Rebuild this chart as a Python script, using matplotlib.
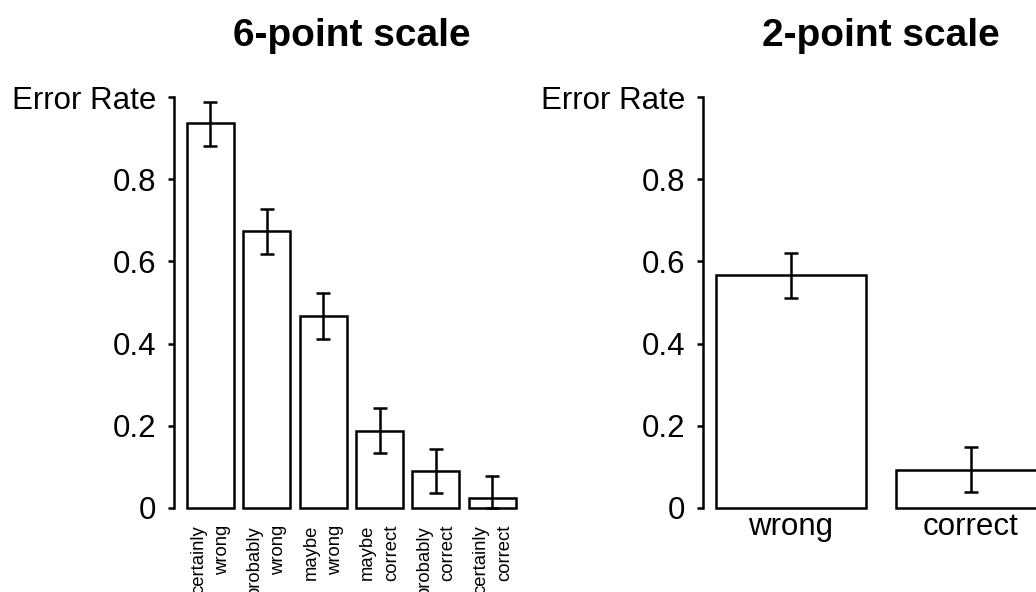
import numpy as np
import matplotlib
matplotlib.use('Agg')
import matplotlib.pyplot as plt

plt.rcParams['font.family'] = ['Liberation Sans', 'DejaVu Sans']

# 6-point scale
labels6 = ['certainly\nwrong', 'probably\nwrong', 'maybe\nwrong',
           'maybe\ncorrect', 'probably\ncorrect', 'certainly\ncorrect']
rate6 = [0.936, 0.673, 0.467, 0.187, 0.091, 0.024]
hi6 = [0.989, 0.727, 0.522, 0.243, 0.143, 0.078]
lo6 = [0.882, 0.617, 0.411, 0.134, 0.036, 0.0]

# 2-point scale
labels2 = ['wrong', 'correct']
rate2 = [0.567, 0.093]
hi2 = [0.620, 0.148]
lo2 = [0.510, 0.038]

yticks = [0, 0.2, 0.4, 0.6, 0.8, 1.0]
ylabels = ['0', '0.2', '0.4', '0.6', '0.8', 'Error Rate']

W, H = 1036, 592
fig = plt.figure(figsize=(W / 100, H / 100), dpi=100)

lw = 1.8
bottom = (H - 524.4) / H
height = 443.8 / H


def panel(rect, labels, rate, hi, lo, title):
    ax = fig.add_axes(rect)
    n = len(rate)
    x = 0.7 + 1.2 * np.arange(n)
    rate = np.array(rate)
    yerr = [rate - np.array(lo), np.array(hi) - rate]
    ax.bar(x, rate, width=1.0, facecolor='white', edgecolor='black', linewidth=lw)
    ax.errorbar(x, rate, yerr=yerr, fmt='none', ecolor='black',
                elinewidth=lw, capsize=4.7, capthick=lw)
    rng = 1.2 * n - 0.2
    ax.set_xlim(0.2 - 0.04 * rng, 1.2 * n + 0.04 * rng)
    ax.set_ylim(-0.04, 1.04)
    for s in ['top', 'right', 'bottom']:
        ax.spines[s].set_visible(False)
    ax.spines['left'].set_bounds(0, 1)
    ax.spines['left'].set_linewidth(lw)
    ax.set_yticks(yticks)
    ax.set_yticklabels(ylabels, fontsize=22.5)
    ax.tick_params(axis='y', length=4.3, width=lw, pad=8.6)
    ax.set_xticks(x)
    ax.set_title(title, fontsize=28, fontweight='bold', pad=25)
    return ax


ax1 = panel([173.8 / W, bottom, (529 - 173.8) / W, height],
            labels6, rate6, hi6, lo6, '6-point scale')
ax1.set_xticklabels(labels6, rotation=90, fontsize=13.3, linespacing=1.55,
                    ma='right', va='top', ha='center')
ax1.tick_params(axis='x', length=0, pad=0.5)

ax2 = panel([702.8 / W, bottom, (1059 - 702.8) / W, height],
            labels2, rate2, hi2, lo2, '2-point scale')
ax2.set_xticklabels(labels2, fontsize=22.5)
ax2.tick_params(axis='x', length=0, pad=-9)

fig.savefig('out.png', dpi=100)
